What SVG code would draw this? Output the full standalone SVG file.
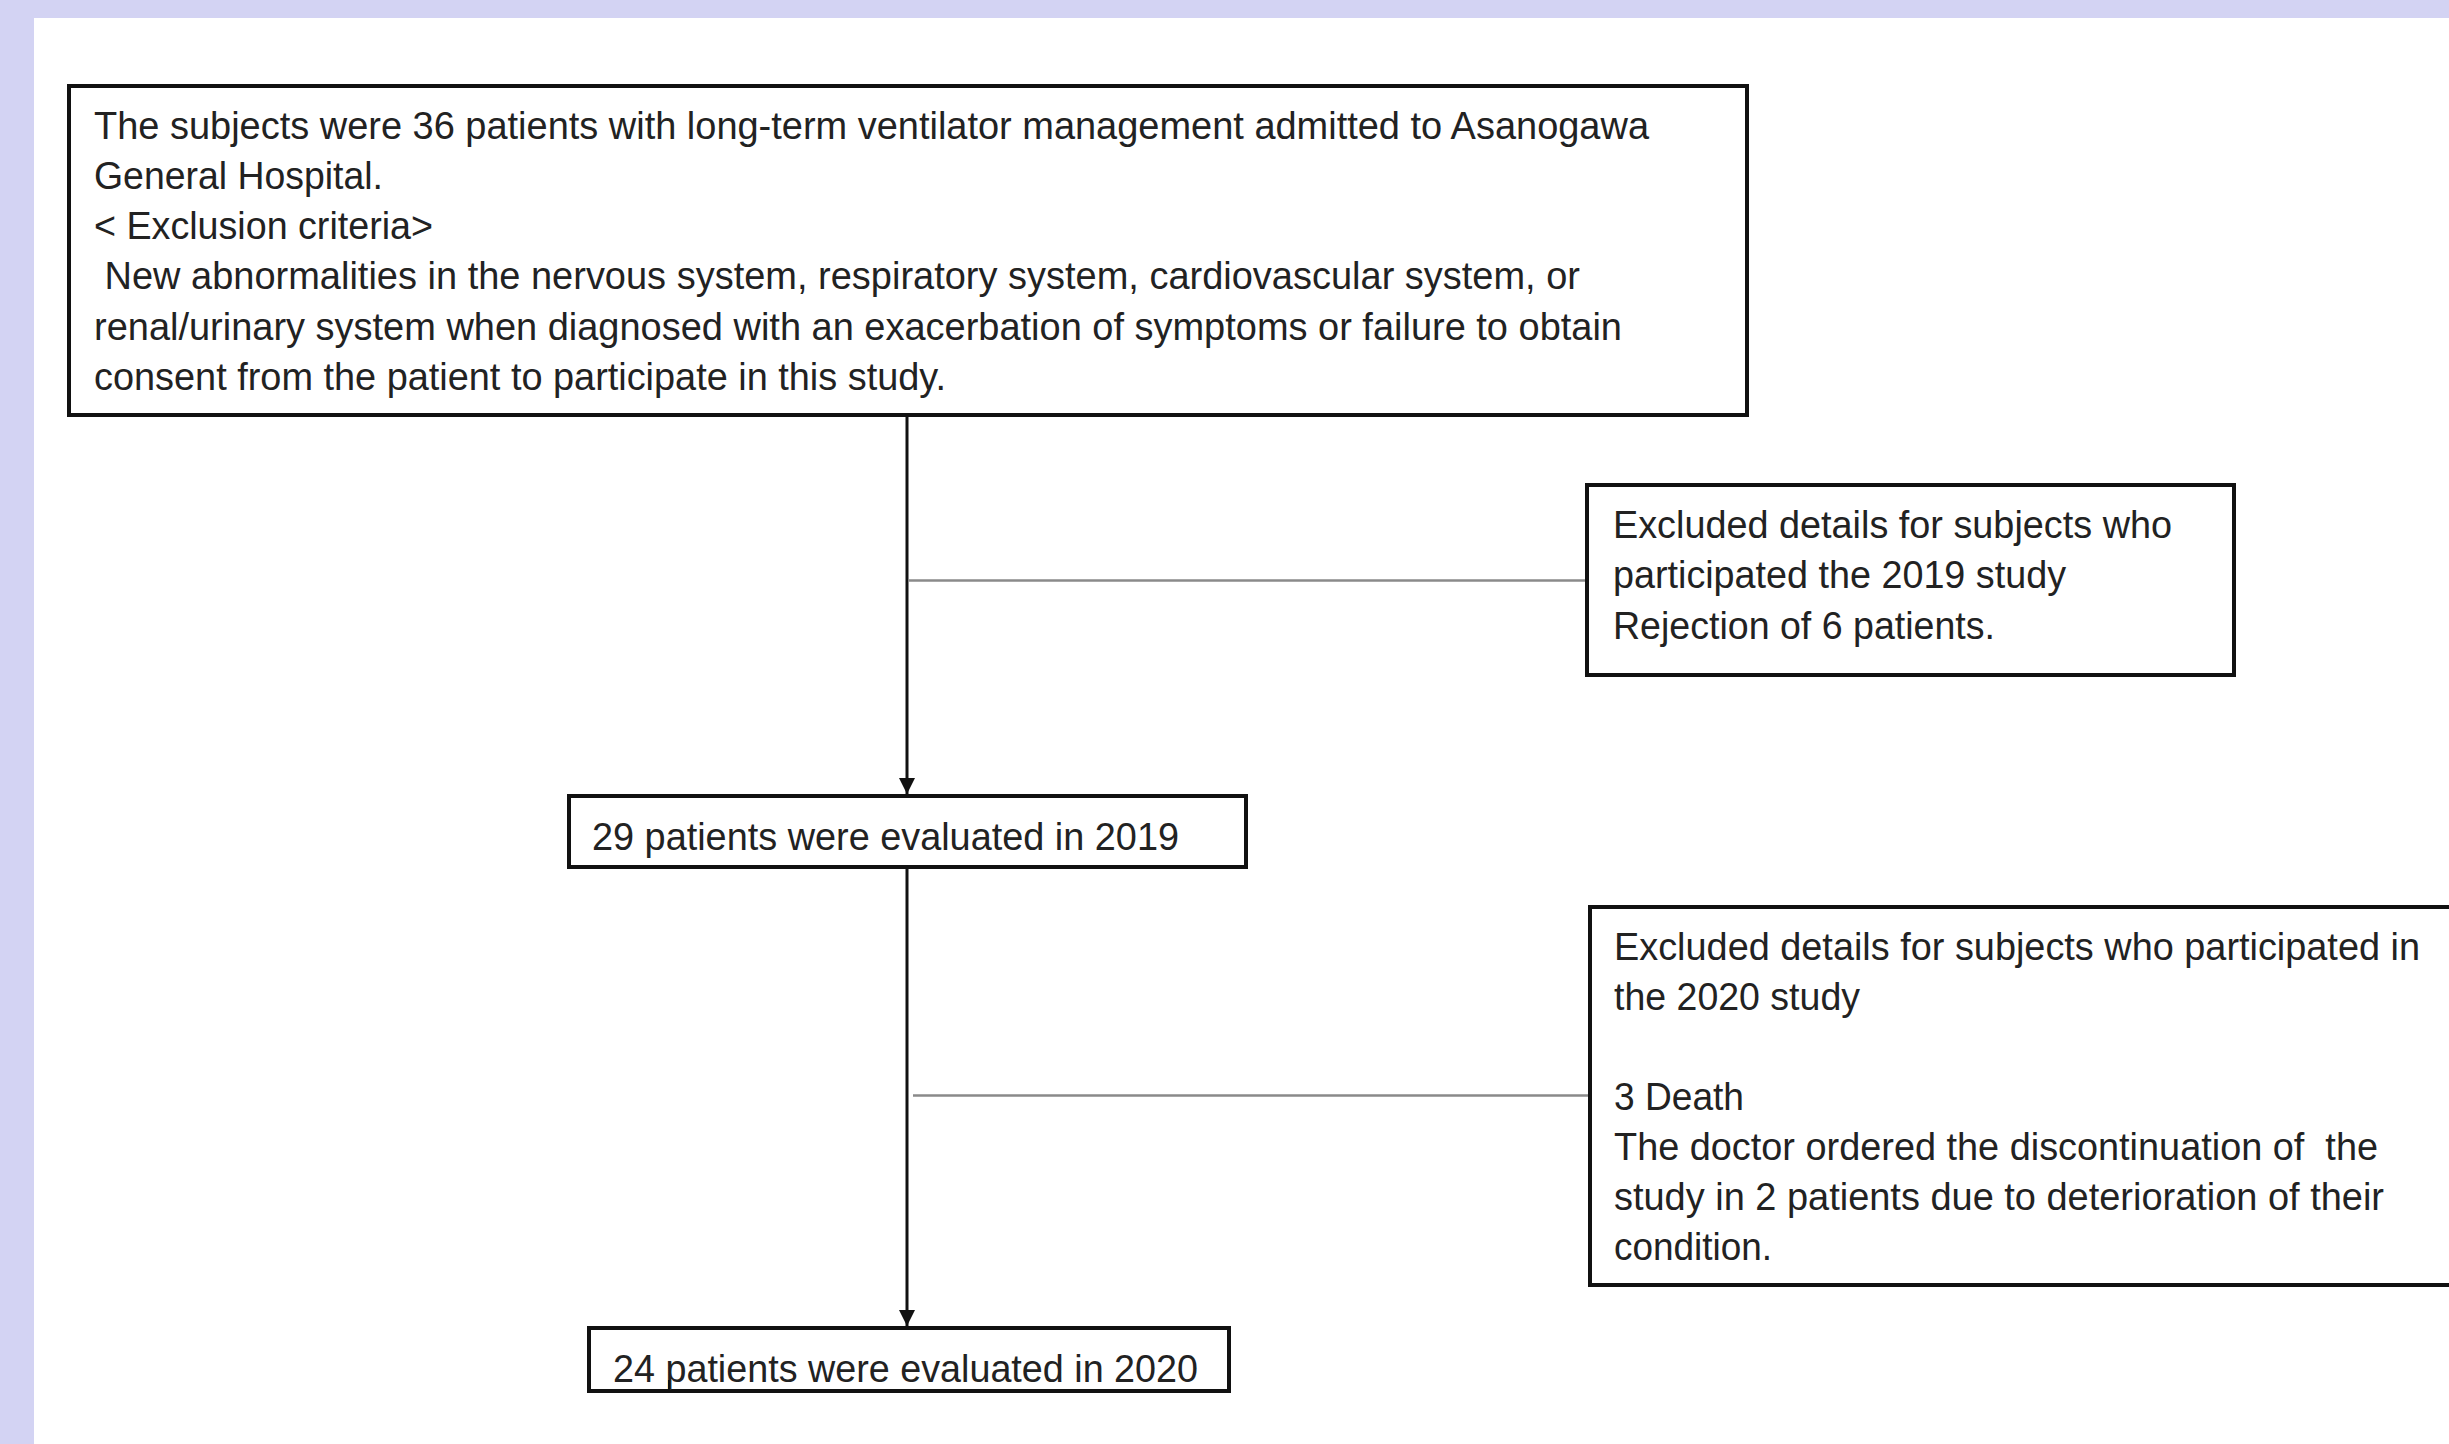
<svg xmlns="http://www.w3.org/2000/svg" width="2449" height="1444" viewBox="0 0 2449 1444">
<style>
.box{fill:#ffffff;stroke:#111111;stroke-width:4}
.t{font-family:"Liberation Sans",Arial,sans-serif;font-size:38px;fill:#222222;}
.main{stroke:#111111;stroke-width:3;fill:none}
.side{stroke:#8a8a8a;stroke-width:2.5;fill:none}
</style>
<defs>
<marker id="arr" viewBox="0 0 16 20" refX="16" refY="10" markerWidth="16" markerHeight="20" markerUnits="userSpaceOnUse" orient="auto">
<path d="M0,2 L16,10 L0,18 Z" fill="#111111"/>
</marker>
</defs>
<rect x="0" y="0" width="2449" height="1444" fill="#D3D3F3"/>
<rect x="34" y="18" width="2415" height="1426" fill="#ffffff"/>

<g id="connectors">
<line class="main" x1="907" y1="415" x2="907" y2="794" marker-end="url(#arr)"/>
<line class="main" x1="907" y1="867" x2="907" y2="1326" marker-end="url(#arr)"/>
<line class="side" x1="909" y1="580.5" x2="1587" y2="580.5"/>
<line class="side" x1="913" y1="1095.5" x2="1590" y2="1095.5"/>
</g>

<g id="node-subjects">
<rect class="box" x="69" y="86" width="1678" height="329"/>
<text class="t" xml:space="preserve"><tspan x="94" y="139" textLength="1555" lengthAdjust="spacingAndGlyphs">The subjects were 36 patients with long-term ventilator management admitted to Asanogawa</tspan><tspan x="94" y="189" textLength="289" lengthAdjust="spacingAndGlyphs">General Hospital.</tspan><tspan x="94" y="239" textLength="339" lengthAdjust="spacingAndGlyphs">&lt; Exclusion criteria&gt;</tspan><tspan x="94" y="289" textLength="1486" lengthAdjust="spacingAndGlyphs"> New abnormalities in the nervous system, respiratory system, cardiovascular system, or</tspan><tspan x="94" y="340" textLength="1528" lengthAdjust="spacingAndGlyphs">renal/urinary system when diagnosed with an exacerbation of symptoms or failure to obtain</tspan><tspan x="94" y="390" textLength="852" lengthAdjust="spacingAndGlyphs">consent from the patient to participate in this study.</tspan></text>
</g>

<g id="node-excluded-2019">
<rect class="box" x="1587" y="485" width="647" height="190"/>
<text class="t"><tspan x="1613" y="538" textLength="559" lengthAdjust="spacingAndGlyphs">Excluded details for subjects who</tspan><tspan x="1613" y="588" textLength="453" lengthAdjust="spacingAndGlyphs">participated the 2019 study</tspan><tspan x="1613" y="639" textLength="382" lengthAdjust="spacingAndGlyphs">Rejection of 6 patients.</tspan></text>
</g>

<g id="node-evaluated-2019">
<rect class="box" x="569" y="796" width="677" height="71"/>
<text class="t" x="592" y="850" textLength="587" lengthAdjust="spacingAndGlyphs">29 patients were evaluated in 2019</text>
</g>

<g id="node-excluded-2020">
<rect class="box" x="1590" y="907" width="880" height="378"/>
<text class="t" xml:space="preserve"><tspan x="1614" y="960" textLength="806" lengthAdjust="spacingAndGlyphs">Excluded details for subjects who participated in</tspan><tspan x="1614" y="1010" textLength="246" lengthAdjust="spacingAndGlyphs">the 2020 study</tspan><tspan x="1614" y="1110" textLength="130" lengthAdjust="spacingAndGlyphs">3 Death</tspan><tspan x="1614" y="1160" textLength="764" lengthAdjust="spacingAndGlyphs">The doctor ordered the discontinuation of  the</tspan><tspan x="1614" y="1210" textLength="770" lengthAdjust="spacingAndGlyphs">study in 2 patients due to deterioration of their</tspan><tspan x="1614" y="1260" textLength="158" lengthAdjust="spacingAndGlyphs">condition.</tspan></text>
</g>

<g id="node-evaluated-2020">
<rect class="box" x="589" y="1328" width="640" height="63"/>
<text class="t" x="613" y="1382" textLength="585" lengthAdjust="spacingAndGlyphs">24 patients were evaluated in 2020</text>
<line x1="669" y1="1380" x2="669" y2="1390" stroke="#111111" stroke-width="2"/>
</g>
</svg>
